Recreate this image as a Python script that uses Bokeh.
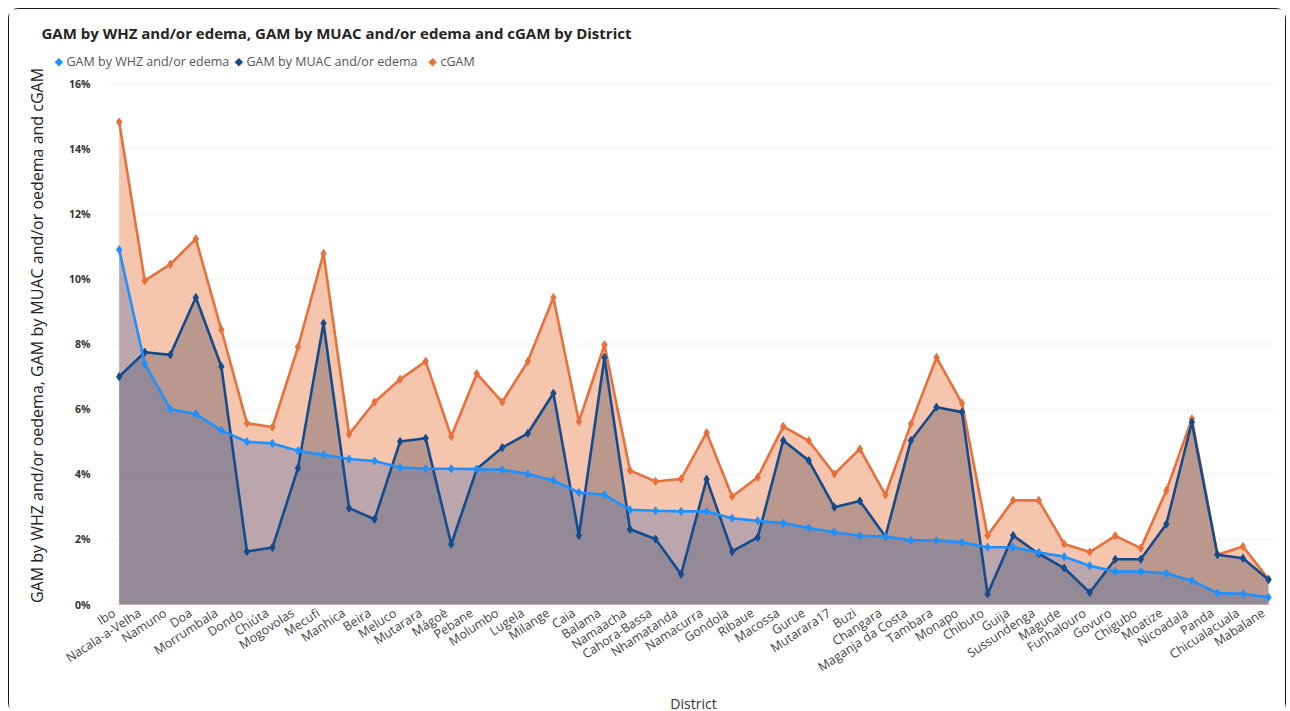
import math
from bokeh.plotting import figure
from bokeh.models import Range1d, Label
from bokeh.core.properties import value
from bokeh.embed import file_html
from bokeh.resources import INLINE

districts = ["Ibo", "Nacala-a-Velha", "Namuno", "Doa", "Morrumbala", "Dondo", "Chiúta",
             "Mogovolas", "Mecufi", "Manhica", "Beira", "Meluco", "Mutarara", "Mágoè",
             "Pebane", "Molumbo", "Lugela", "Milange", "Caia", "Balama", "Namaacha",
             "Cahora-Bassa", "Nhamatanda", "Namacurra", "Gondola", "Ribaue", "Macossa",
             "Gurue", "Mutarara17", "Buzi", "Changara", "Maganja da Costa", "Tambara",
             "Monapo", "Chibuto", "Guija", "Sussundenga", "Magude", "Funhalouro", "Govuro",
             "Chigubo", "Moatize", "Nicoadala", "Panda", "Chicualacuala", "Mabalane"]

gam_whz = [10.9, 7.4, 6.0, 5.85, 5.35, 5.0, 4.95, 4.72, 4.6, 4.47, 4.41, 4.21, 4.17, 4.17,
           4.16, 4.14, 4.01, 3.81, 3.44, 3.37, 2.91, 2.88, 2.86, 2.86, 2.65, 2.57, 2.50,
           2.35, 2.22, 2.11, 2.09, 1.97, 1.97, 1.91, 1.76, 1.76, 1.6, 1.47, 1.19, 1.01,
           1.01, 0.96, 0.73, 0.35, 0.33, 0.22]

gam_muac = [7.0, 7.75, 7.67, 9.43, 7.31, 1.63, 1.75, 4.19, 8.64, 2.96, 2.62, 5.01, 5.11,
            1.85, 4.16, 4.82, 5.26, 6.49, 2.12, 7.59, 2.31, 2.01, 0.93, 3.85, 1.63, 2.06,
            5.04, 4.42, 2.99, 3.18, 2.09, 5.04, 6.06, 5.91, 0.32, 2.12, 1.56, 1.12, 0.37,
            1.39, 1.39, 2.47, 5.6, 1.53, 1.42, 0.76]

cgam = [14.82, 9.95, 10.45, 11.23, 8.44, 5.57, 5.45, 7.91, 10.79, 5.23, 6.22, 6.92, 7.47,
        5.16, 7.09, 6.22, 7.47, 9.43, 5.62, 7.98, 4.12, 3.78, 3.86, 5.28, 3.32, 3.91,
        5.47, 5.03, 4.01, 4.78, 3.37, 5.55, 7.59, 6.18, 2.12, 3.2, 3.2, 1.86, 1.61, 2.11,
        1.73, 3.5, 5.7, 1.53, 1.78, 0.78]

y_ticks = [0, 2, 4, 6, 8, 10, 12, 14, 16]
y_tick_labels = [f"{t}%" for t in y_ticks]

series_names = ["GAM by WHZ and/or edema", "GAM by MUAC and/or edema", "cGAM"]
line_colors = ["#1E90FF", "#144B8C", "#E8703A"]

xs = list(range(len(districts)))
n = len(districts)

# ---- layout geometry (page pixels) ----
W, H = 1278, 705
OFF = 8                      # page offset of the figure
PLOT_L, PLOT_R = 110, 1273   # plotting area edges
PX_FIRST, PX_LAST = 117.7, 1267.0
PY_ZERO, PX_PER_UNIT_Y = 603.0, 32.55
px_per_x = (PX_LAST - PX_FIRST) / (n - 1)

x_start = (OFF - PX_FIRST) / px_per_x
x_end = (OFF + W - PX_FIRST) / px_per_x
y_end = (PY_ZERO - OFF) / PX_PER_UNIT_Y
y_start = (PY_ZERO - (OFF + H)) / PX_PER_UNIT_Y


def dx(px):
    return (px - PX_FIRST) / px_per_x


def dy(py):
    return (PY_ZERO - py) / PX_PER_UNIT_Y


p = figure(width=W, height=H, output_backend="svg", toolbar_location=None,
           x_range=Range1d(x_start, x_end), y_range=Range1d(y_start, y_end),
           min_border=0, min_border_left=0, min_border_right=0,
           min_border_top=0, min_border_bottom=0)
p.styles = {"margin-left": "8px", "margin-top": "8px", "border": "1.5px solid #1a1a1a",
            "border-radius": "10px", "box-sizing": "border-box"}
p.outline_line_color = None
p.background_fill_color = "white"
p.border_fill_color = "white"
p.xaxis.visible = False
p.yaxis.visible = False
p.xgrid.grid_line_color = None
p.ygrid.grid_line_color = None

# horizontal gridlines across the plotting area
p.segment(x0=[dx(PLOT_L)] * len(y_ticks), x1=[dx(PLOT_R)] * len(y_ticks),
          y0=y_ticks, y1=y_ticks, line_color="#d6d6d6", line_dash="1 3", line_width=1)

# y tick labels
p.text(x=[dx(89)] * len(y_ticks), y=y_ticks, text=y_tick_labels,
       text_font=value("Open Sans"), text_font_style="bold", text_font_size="10.5px",
       text_color="#333333", text_align="right", text_baseline="middle")

# fills (layered with transparency)
p.varea(x=xs, y1=0, y2=cgam, fill_color="#E97E49", fill_alpha=0.45)
p.varea(x=xs, y1=0, y2=gam_muac, fill_color="#4C4452", fill_alpha=0.35)
p.varea(x=xs, y1=0, y2=gam_whz, fill_color="#4C6CAD", fill_alpha=0.35)

# lines and markers
for vals, col in [(cgam, line_colors[2]), (gam_muac, line_colors[1]), (gam_whz, line_colors[0])]:
    p.line(xs, vals, line_color=col, line_width=2.6)
    p.scatter(xs, vals, marker="diamond", size=8, fill_color=col, line_color=col)

# x tick labels (rotated)
p.text(x=[x - 0.2 for x in xs], y=[dy(610)] * n, text=districts, angle=0.58,
       text_font=value("Open Sans"), text_font_size="12.5px", text_color="#444444",
       text_align="right", text_baseline="middle")

# axis titles
p.add_layout(Label(x=dx(692), y=dy(702), text="District", text_font="Open Sans",
                   text_font_size="14px", text_color="#333333",
                   text_align="center", text_baseline="middle"))
p.add_layout(Label(x=dx(35), y=dy(334), angle=math.pi / 2,
                   text="GAM by WHZ and/or oedema, GAM by MUAC and/or oedema and cGAM",
                   text_font="Open Sans", text_font_size="16px", text_color="#222222",
                   text_align="center", text_baseline="middle"))

# chart title
p.add_layout(Label(x=dx(40), y=dy(31),
                   text="GAM by WHZ and/or edema, GAM by MUAC and/or edema and cGAM by District",
                   text_font="Open Sans", text_font_style="bold", text_font_size="15px",
                   text_color="#252423", text_align="left", text_baseline="middle"))

# legend
legend_x = [53, 233, 427]
for lx, name, col in zip(legend_x, series_names, line_colors):
    p.add_layout(Label(x=dx(lx), y=dy(60), text="◆", text_font="DejaVu Sans",
                       text_font_size="11px", text_color=col,
                       text_align="left", text_baseline="middle"))
    p.add_layout(Label(x=dx(lx + 12), y=dy(60), text=name, text_font="Open Sans",
                       text_font_size="12.5px", text_color="#555555",
                       text_align="left", text_baseline="middle"))

open("out.html", "w").write(file_html(p, INLINE))
